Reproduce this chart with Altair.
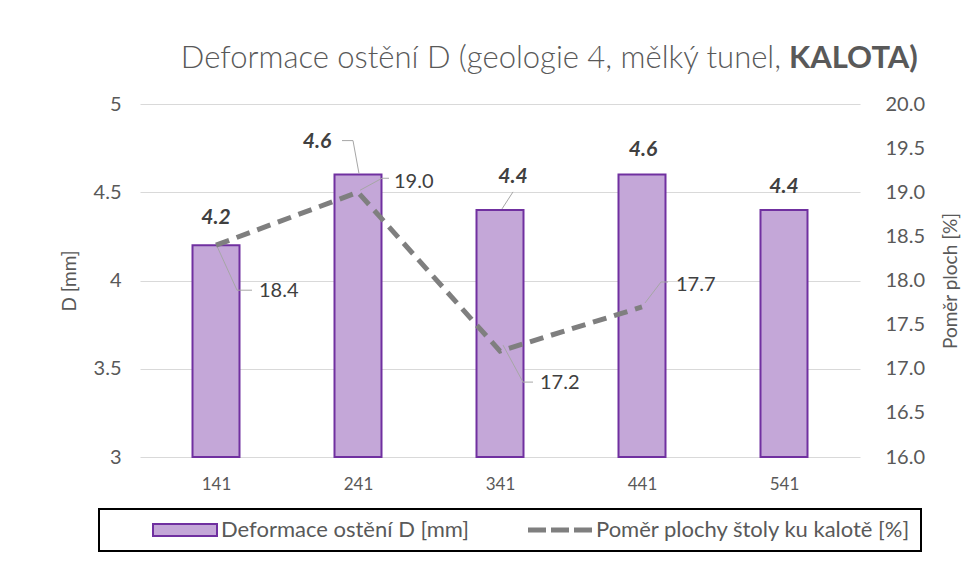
import altair as alt
import pandas as pd

# ---------------- data ----------------
categories = [141, 241, 341, 441, 541]
deformation = [4.2, 4.6, 4.4, 4.6, 4.4]
ratio_categories = [141, 241, 341, 441]
ratio = [18.4, 19.0, 17.2, 17.7]

bar_name = "Deformace ostění D [mm]"
line_name = "Poměr plochy štoly ku kalotě [%]"
series_names = [bar_name, line_name]
title_main = "Deformace ostění D (geologie 4, mělký tunel, "
title_bold = "KALOTA)"
left_title = "D [mm]"
right_title = "Poměr ploch [%]"
left_ticks = [3, 3.5, 4, 4.5, 5]
right_ticks = [16.0, 16.5, 17.0, 17.5, 18.0, 18.5, 19.0, 19.5, 20.0]

bars_df = pd.DataFrame({"kat": categories, "D": deformation})
line_df = pd.DataFrame({"kat": ratio_categories, "pomer": ratio})
legend_df = pd.DataFrame({"serie": series_names})

# ---------------- styles ----------------
FONT = "Lato"
TXT = "#595959"
LBL = "#404040"
BAR_FILL = "#C4A7D8"
BAR_STROKE = "#7030A0"
LINE_C = "#7F7F7F"
GRID = "#D9D9D9"
LEADER = "#A6A6A6"

x_enc = alt.X("kat:Q",
              scale=alt.Scale(domain=[91, 591], nice=False, zero=False),
              axis=alt.Axis(values=categories, format="d", title=None, grid=False,
                            ticks=False, domain=False, labelFont=FONT, labelFontSize=17,
                            labelColor=TXT, labelPadding=19))

y_left = alt.Y("D:Q",
               scale=alt.Scale(domain=[3, 5], nice=False, zero=False),
               axis=alt.Axis(values=left_ticks, format="~g", title=left_title,
                             grid=True, gridColor=GRID, gridWidth=1, domain=False,
                             ticks=False, labelFont=FONT, labelFontSize=20,
                             labelColor=TXT, labelPadding=19, titleFont=FONT,
                             titleFontSize=19, titleFontWeight="normal",
                             titleColor=TXT, titlePadding=14))

y_right = alt.Y("pomer:Q",
                scale=alt.Scale(domain=[16, 20], nice=False, zero=False),
                axis=alt.Axis(orient="right", values=right_ticks, format=".1f",
                              title=right_title, grid=False, domain=False, ticks=False,
                              labelFont=FONT, labelFontSize=20, labelColor=TXT,
                              labelPadding=25, titleFont=FONT, titleFontSize=19,
                              titleFontWeight="normal", titleColor=TXT,
                              titlePadding=17, titleAngle=270, titleBaseline="top"))

# ---------------- left layers (bars) ----------------
bars = alt.Chart(bars_df).mark_bar(
    width=47, fill=BAR_FILL, stroke=BAR_STROKE, strokeWidth=2
).encode(x=x_enc, y=y_left, y2=alt.Y2(datum=3))

bar_label_offsets = {141: (0, -27), 241: (-41, -33), 341: (13, -33),
                     441: (1, -25), 541: (0, -23)}
bar_labels = [
    alt.Chart(bars_df).transform_filter(alt.datum.kat == k).mark_text(
        dx=dx, dy=dy, align="center", baseline="middle", font=FONT, fontSize=21,
        fontWeight="bold", fontStyle="italic", color=LBL
    ).encode(x=x_enc, y=y_left, text=alt.Text("D:Q", format=".1f"))
    for k, (dx, dy) in bar_label_offsets.items()
]


def leaders(df, k, field, y_enc, pts):
    out = []
    for (x0, y0), (x1, y1) in zip(pts[:-1], pts[1:]):
        out.append(
            alt.Chart(df).transform_filter(alt.datum.kat == k).mark_rule(
                color=LEADER, strokeWidth=1, xOffset=x0, yOffset=y0,
                x2Offset=x1, y2Offset=y1
            ).encode(x=x_enc, x2=alt.X2(field="kat"), y=y_enc,
                     y2=alt.Y2(field=field))
        )
    return out


bar_leaders = (leaders(bars_df, 241, "D", y_left, [(-16, -34), (-5, -34), (1, -1)])
               + leaders(bars_df, 341, "D", y_left, [(13, -18), (2, -1)]))

left = alt.layer(bars, *bar_leaders, *bar_labels)

# ---------------- right layers (line) ----------------
line = alt.Chart(line_df).mark_line(
    stroke=LINE_C, strokeWidth=5, strokeDash=[14, 8], strokeCap="butt"
).encode(x=x_enc, y=y_right)

line_label_offsets = {141: (43, 46), 241: (36, -10), 341: (40, 32), 441: (34, -22)}
line_labels = [
    alt.Chart(line_df).transform_filter(alt.datum.kat == k).mark_text(
        dx=dx, dy=dy, align="left", baseline="middle", font=FONT, fontSize=20,
        color=LBL
    ).encode(x=x_enc, y=y_right, text=alt.Text("pomer:Q", format=".1f"))
    for k, (dx, dy) in line_label_offsets.items()
]

line_leaders = (leaders(line_df, 141, "pomer", y_right, [(1, 1), (21, 45), (36, 45)])
                + leaders(line_df, 241, "pomer", y_right, [(2, -2), (24, -14), (31, -14)])
                + leaders(line_df, 341, "pomer", y_right, [(3, -6), (23, 31), (33, 31)])
                + leaders(line_df, 441, "pomer", y_right, [(3, -4), (19, -25), (26, -25)]))

right = alt.layer(*line_leaders, line, *line_labels)

# ---------------- legend (one framed legend, two symbol kinds) ----------------
sym_bar = "M-3.2,-0.6H3.2V0.6H-3.2Z"
sym_dash = ("M-3.2,-0.25H-1.4V0.25H-3.2Z M-0.9,-0.25H0.9V0.25H-0.9Z "
            "M1.4,-0.25H3.2V0.25H1.4Z")
frame_fill = "\u00a0" * 10   # widens the legend frame to the right, like the reference

legend = alt.Legend(
    title=None, orient="none", legendX=-41, legendY=405, direction="horizontal",
    padding=10, strokeColor="#000000", columnPadding=15, labelFont=FONT,
    labelFontSize=22, labelColor=TXT, labelOffset=25, labelLimit=700,
    symbolSize=400, symbolStrokeWidth=2, symbolOpacity=1, symbolOffset=65,
    labelExpr=f"datum.index == 1 ? datum.label + '{frame_fill}' : datum.label",
)

legend_layer = alt.Chart(legend_df).mark_point(filled=True, opacity=0).encode(
    fill=alt.Fill("serie:N", scale=alt.Scale(domain=series_names,
                                             range=[BAR_FILL, LINE_C]), legend=legend),
    shape=alt.Shape("serie:N", scale=alt.Scale(domain=series_names,
                                               range=[sym_bar, sym_dash]), legend=legend),
    stroke=alt.Stroke("serie:N", scale=alt.Scale(domain=series_names,
                                                 range=[BAR_STROKE, "transparent"]),
                      legend=legend),
)

# ---------------- title (two weights) ----------------
title1 = alt.Chart(pd.DataFrame({"t": [title_main]})).mark_text(
    align="right", baseline="alphabetic", font=FONT, fontSize=31, fontWeight=300,
    color=TXT
).encode(x=alt.value(641), y=alt.value(-36), text="t:N")

title2 = alt.Chart(pd.DataFrame({"t": [title_bold]})).mark_text(
    align="left", baseline="alphabetic", font=FONT, fontSize=31, fontWeight="bold",
    color=TXT
).encode(x=alt.value(649), y=alt.value(-36), text="t:N")

chart = alt.layer(left, right, legend_layer, title1, title2).resolve_scale(
    y="independent"
).properties(
    width=720, height=353,
    autosize=alt.AutoSizeParams(type="none"),
    padding={"left": 132, "top": 96, "right": 106, "bottom": 98},
).configure(font=FONT).configure_view(stroke=None).configure_legend(strokeWidth=2)

chart.save("out.html", embed_options={"renderer": "svg", "actions": False})
